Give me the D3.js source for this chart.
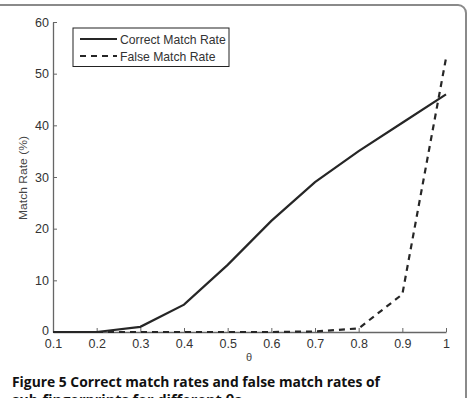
<!DOCTYPE html>
<html><head><meta charset="utf-8">
<script src="https://cdn.jsdelivr.net/npm/d3@7"></script>
<style>html,body{margin:0;padding:0;background:#fff;}svg{display:block;}</style>
</head><body>
<svg id="chart" width="468" height="398"></svg>
<script>
const theta = [0.1,0.2,0.3,0.4,0.5,0.6,0.7,0.8,0.9,1.0];
const correctRate = [0,0,1.0,5.3,13,21.5,29,35,40.5,46];
const falseRate = [0,0,0,0,0,0,0.1,0.7,7.3,53];
const xTicks = [0.1,0.2,0.3,0.4,0.5,0.6,0.7,0.8,0.9,1];
const yTicks = [0,10,20,30,40,50,60];
const seriesNames = ["Correct Match Rate","False Match Rate"];

const svg = d3.select("#chart");
// frame
svg.append("rect").attr("x",-10).attr("y",5).attr("width",476).attr("height",420)
  .attr("rx",8).attr("fill","none").attr("stroke","#8a8a8a").attr("stroke-width",2);

const x = d3.scaleLinear().domain([0.1,1]).range([53,446]);
const y = d3.scaleLinear().domain([0,60]).range([332,22]);
const font = "'Liberation Sans', Arial, sans-serif";

const xAxis = svg.append("g").attr("transform","translate(0,332)")
  .call(d3.axisBottom(x).tickValues(xTicks).tickSizeInner(-4).tickSizeOuter(0).tickPadding(7)
    .tickFormat(d=> d===1 ? "1" : d3.format(".1f")(d)));
const yAxis = svg.append("g").attr("transform","translate(53,0)")
  .call(d3.axisLeft(y).tickValues(yTicks).tickSizeInner(-4).tickSizeOuter(0).tickPadding(4));
[xAxis,yAxis].forEach(a=>{
  a.select(".domain").attr("stroke","#666").attr("stroke-width",1.3);
  a.selectAll(".tick line").attr("stroke","#666");
  a.selectAll("text").attr("font-family",font).attr("font-size",12.5).attr("fill","#333");
});
yAxis.selectAll(".tick text").filter(d=>d===0).attr("dy","0.2em");

svg.append("text").attr("x",249).attr("y",361).attr("text-anchor","middle")
  .attr("font-family",font).attr("font-size",11).attr("fill","#444").text("θ");
svg.append("text").attr("transform","translate(27,178) rotate(-90)").attr("text-anchor","middle")
  .attr("font-family",font).attr("font-size",11.5).attr("fill","#444")
  .attr("textLength",84).attr("lengthAdjust","spacingAndGlyphs").text("Match Rate (%)");

const line = d3.line().x((d,i)=>x(theta[i])).y(d=>y(d));
svg.append("path").datum(correctRate).attr("d",line).attr("fill","none")
  .attr("stroke","#262626").attr("stroke-width",2.2);
svg.append("path").datum(falseRate).attr("d",line).attr("fill","none")
  .attr("stroke","#262626").attr("stroke-width",2.2).attr("stroke-dasharray","6,5");

// legend
const lg = svg.append("g");
lg.append("rect").attr("x",73).attr("y",28).attr("width",156).attr("height",38.5)
  .attr("fill","#fff").attr("stroke","#222").attr("stroke-width",1);
seriesNames.forEach((n,i)=>{
  const yy = 39 + i*17;
  lg.append("line").attr("x1",80).attr("x2",117).attr("y1",yy).attr("y2",yy)
    .attr("stroke","#262626").attr("stroke-width",2.2).attr("stroke-dasharray", i? "6,5":null);
  lg.append("text").attr("x",120).attr("y",yy+4.5).attr("font-family",font).attr("font-size",12.2)
    .attr("fill","#333").text(n);
});

// caption
const cap = svg.append("text").attr("x",12).attr("y",387).attr("font-family","'Open Sans', Lato, sans-serif")
  .attr("font-size",14.5).attr("font-weight","bold").attr("fill","#111")
  .attr("textLength",368).attr("lengthAdjust","spacingAndGlyphs");
cap.append("tspan").text("Figure 5 ");
cap.append("tspan").text("Correct match rates and false match rates of");
svg.append("text").attr("x",12).attr("y",405).attr("font-family","'Open Sans', Lato, sans-serif")
  .attr("font-size",14.5).attr("font-weight","bold").attr("fill","#111").text("sub-fingerprints for different θs.");
</script>
</body></html>
